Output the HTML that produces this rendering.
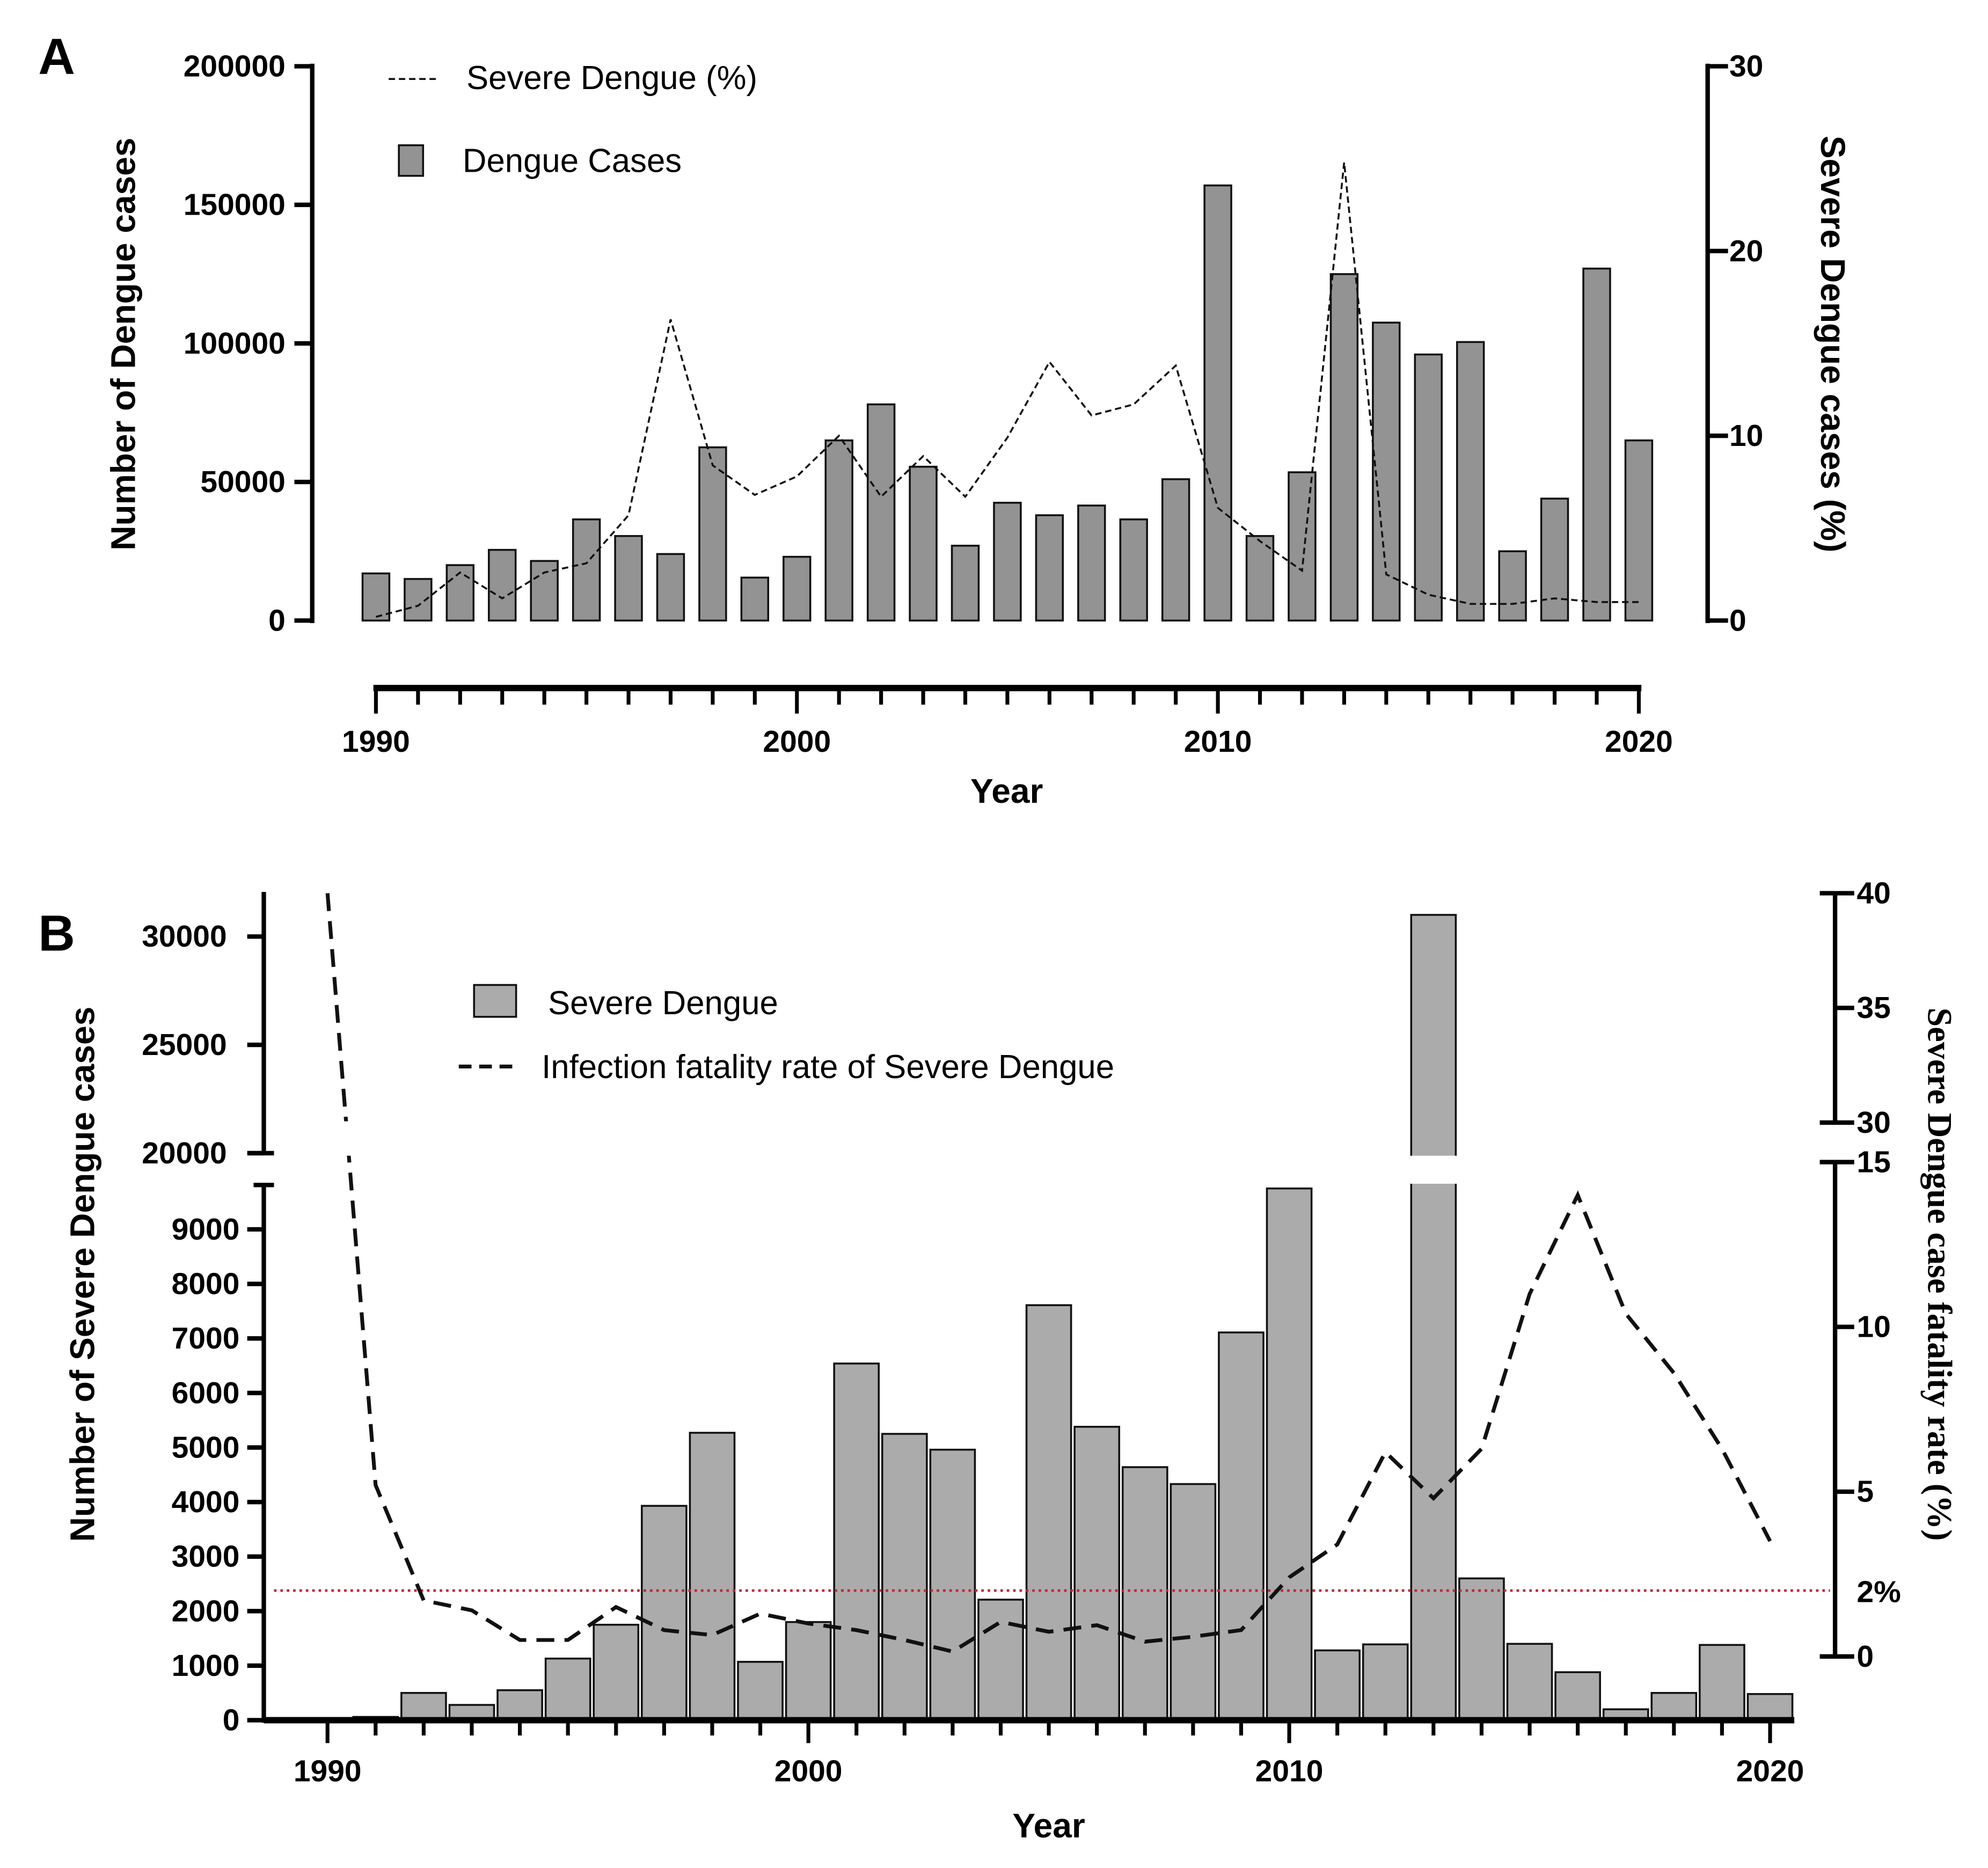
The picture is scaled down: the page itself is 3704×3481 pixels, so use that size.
<!DOCTYPE html>
<html><head><meta charset="utf-8"><style>
html,body{margin:0;padding:0;background:#fff}
svg{display:block}
text{font-family:"Liberation Sans",sans-serif;font-weight:bold;fill:#000}
</style></head><body>
<svg id="chart" xmlns="http://www.w3.org/2000/svg" width="3704" height="3481" viewBox="0 0 1560 1466" preserveAspectRatio="none">
<rect width="1560" height="1466" fill="#fff"/>
<g id="panelA"></g>
<g id="panelB"></g>
</svg>
<script>
const years = [1990,1991,1992,1993,1994,1995,1996,1997,1998,1999,2000,2001,2002,2003,2004,2005,2006,2007,2008,2009,2010,2011,2012,2013,2014,2015,2016,2017,2018,2019,2020];
const dengueCases = [17000,15000,20000,25500,21500,36500,30500,24000,62500,15500,23000,65000,78000,55500,27000,42500,38000,41500,36500,51000,157000,30500,53500,125000,107500,96000,100500,25000,44000,127000,65000];
const severePct = [0.2,0.8,2.6,1.2,2.6,3.1,5.7,16.3,8.4,6.8,7.8,10,6.7,8.9,6.7,9.9,14,11.1,11.7,13.8,6.1,4.3,2.7,24.8,2.5,1.4,0.9,0.9,1.2,1.0,1.0];
const severeCases = [20,60,500,280,550,1130,1750,3930,5270,1070,1800,6540,5250,4960,2210,7610,5380,4640,4330,7110,9750,1280,1390,31000,2600,1400,880,200,500,1380,480];
const fatalityRate = [40,5.2,1.7,1.4,0.5,0.5,1.5,0.8,0.65,1.3,1.0,0.8,0.5,0.15,1.05,0.75,0.95,0.45,0.6,0.8,2.4,3.4,6.2,4.8,6.3,11,14,10.4,8.6,6.3,3.5];
const ticksA_left = [0,50000,100000,150000,200000];
const ticksA_right = [0,10,20,30];
const ticksB_lower = [0,1000,2000,3000,4000,5000,6000,7000,8000,9000];
const ticksB_upper = [20000,25000,30000];
const ticksB_rightLower = [0,5,10,15];
const ticksB_rightUpper = [30,35,40];
const yearLabels = [1990,2000,2010,2020];
const threshold = 2;

const NS="http://www.w3.org/2000/svg";
const TF=24;
function mk(parent,tag,attrs,txt){const e=document.createElementNS(NS,tag);for(const k in attrs)e.setAttribute(k,attrs[k]);if(txt!==undefined)e.textContent=txt;parent.appendChild(e);return e;}

// ---------- Panel A ----------
const A=document.getElementById('panelA');
const xA=y=>295+(y-1990)*(1286-295)/30;
const yAL=v=>487-v*(487-52)/200000;
const yAR=v=>487-v*(487-52)/30;
let t;
t=mk(A,'text',{x:30,y:58,'font-size':40});
t.textContent='A';


years.forEach((yr,i)=>{
  const r=mk(A,'rect',{x:xA(yr)-10.5,y:yAL(dengueCases[i]),width:21,height:487-yAL(dengueCases[i]),fill:'#939393',stroke:'#111','stroke-width':1.5});
  
  
});
let p=mk(A,'polyline',{points:years.map((yr,i)=>xA(yr)+','+yAR(severePct[i])).join(' '),fill:'none',stroke:'#111','stroke-width':1.5,'stroke-dasharray':'5 3'});


mk(A,'line',{x1:245,y1:50,x2:245,y2:489,stroke:'#000','stroke-width':3.5});
ticksA_left.forEach(v=>{mk(A,'line',{x1:231,y1:yAL(v),x2:245,y2:yAL(v),stroke:'#000','stroke-width':3.5});
  t=mk(A,'text',{x:224,y:yAL(v)+8,'font-size':TF,'text-anchor':'end'},String(v));
  
  });
mk(A,'line',{x1:1340,y1:50,x2:1340,y2:489,stroke:'#000','stroke-width':3.5});
ticksA_right.forEach(v=>{mk(A,'line',{x1:1340,y1:yAR(v),x2:1356,y2:yAR(v),stroke:'#000','stroke-width':3.5});
  t=mk(A,'text',{x:1357,y:yAR(v)+8,'font-size':TF},String(v));
  
  });
mk(A,'line',{x1:293,y1:540,x2:1288,y2:540,stroke:'#000','stroke-width':5});
years.forEach(yr=>mk(A,'line',{x1:xA(yr),y1:540,x2:xA(yr),y2:yearLabels.includes(yr)?560:553,stroke:'#000','stroke-width':3}));
yearLabels.forEach(yr=>{t=mk(A,'text',{x:xA(yr),y:590,'font-size':TF,'text-anchor':'middle'},String(yr));
  
  });
t=mk(A,'text',{x:790,y:630,'font-size':27,'text-anchor':'middle'},'Year');


t=mk(A,'text',{transform:'translate(106,270) rotate(-90)','font-size':27,'text-anchor':'middle'},'Number of Dengue cases');


t=mk(A,'text',{transform:'translate(1429,270) rotate(90)','font-size':27,'text-anchor':'middle'},'Severe Dengue cases (%)');


mk(A,'line',{x1:305,y1:62,x2:345,y2:62,stroke:'#111','stroke-width':1.5,'stroke-dasharray':'5 3'});
t=mk(A,'text',{x:366,y:70,'font-size':26,style:'font-weight:normal'},'Severe Dengue (%)');


mk(A,'rect',{x:313,y:114,width:19,height:24,fill:'#939393',stroke:'#111','stroke-width':1.5});
t=mk(A,'text',{x:363,y:135,'font-size':26,style:'font-weight:normal'},'Dengue Cases');



// ---------- Panel B ----------
const B=document.getElementById('panelB');
const xB=y=>257+(y-1990)*(1389-257)/30;
const yBL=v=>v<=10000?1350-v*0.0428:(905-(v-20000)*0.017);
const yBR=v=>v<=15?1300-v*(1300-912)/15:(v>=30?881-(v-30)*18:912-(v-15)*(31/15));
t=mk(B,'text',{x:30,y:746,'font-size':40},'B');


years.forEach((yr,i)=>{
  const top=yBL(severeCases[i]);
  const r=mk(B,'rect',{x:xB(yr)-17.5,y:top,width:35,height:1350-top,fill:'#ababab',stroke:'#111','stroke-width':1.5});
  
  
  if(severeCases[i]>10000) mk(B,'rect',{x:xB(yr)-19,y:907,width:38,height:22,fill:'#fff'});
});
const thr=mk(B,'line',{x1:215,y1:yBR(threshold),x2:1436,y2:yBR(threshold),stroke:'#c0282e','stroke-width':2,'stroke-dasharray':'2 3'});


p=mk(B,'polyline',{points:years.map((yr,i)=>xB(yr)+','+yBR(fatalityRate[i])).join(' '),fill:'none',stroke:'#111','stroke-width':3,'stroke-dasharray':'14 8'});


mk(B,'rect',{x:255,y:880,width:25,height:27,fill:'#fff'});
mk(B,'line',{x1:207,y1:700,x2:207,y2:905,stroke:'#000','stroke-width':3.5});
mk(B,'line',{x1:207,y1:930,x2:207,y2:1352,stroke:'#000','stroke-width':3.5});
mk(B,'line',{x1:195,y1:905,x2:215,y2:905,stroke:'#000','stroke-width':3.5});
mk(B,'line',{x1:199,y1:930,x2:215,y2:930,stroke:'#000','stroke-width':3.5});
ticksB_lower.forEach(v=>{mk(B,'line',{x1:194,y1:yBL(v),x2:207,y2:yBL(v),stroke:'#000','stroke-width':3.5});
  t=mk(B,'text',{x:188,y:yBL(v)+8,'font-size':TF,'text-anchor':'end'},String(v));
  
  });
ticksB_upper.forEach(v=>{mk(B,'line',{x1:194,y1:yBL(v),x2:207,y2:yBL(v),stroke:'#000','stroke-width':3.5});
  t=mk(B,'text',{x:178,y:yBL(v)+8,'font-size':TF,'text-anchor':'end'},String(v));
  
  });
mk(B,'line',{x1:1440,y1:700,x2:1440,y2:882,stroke:'#000','stroke-width':3.5});
mk(B,'line',{x1:1440,y1:911,x2:1440,y2:1301,stroke:'#000','stroke-width':3.5});
[[701],[881],[912],[1300]].forEach(a=>mk(B,'line',{x1:1428,y1:a[0],x2:1440,y2:a[0],stroke:'#000','stroke-width':3.5}));
ticksB_rightLower.concat(ticksB_rightUpper).forEach(v=>{mk(B,'line',{x1:1440,y1:yBR(v),x2:1455,y2:yBR(v),stroke:'#000','stroke-width':3.5});
  t=mk(B,'text',{x:1457,y:yBR(v)+8,'font-size':TF},String(v));
  
  });
t=mk(B,'text',{x:1457,y:yBR(threshold)+9,'font-size':TF},threshold+'%');


mk(B,'line',{x1:207,y1:1350,x2:1408,y2:1350,stroke:'#000','stroke-width':5});
years.forEach(yr=>mk(B,'line',{x1:xB(yr),y1:1350,x2:xB(yr),y2:yearLabels.includes(yr)?1368:1362,stroke:'#000','stroke-width':3}));
yearLabels.forEach(yr=>{t=mk(B,'text',{x:xB(yr),y:1398,'font-size':TF,'text-anchor':'middle'},String(yr));
  
  });
t=mk(B,'text',{x:823,y:1442,'font-size':27,'text-anchor':'middle'},'Year');


t=mk(B,'text',{transform:'translate(74,1000) rotate(-90)','font-size':27,'text-anchor':'middle'},'Number of Severe Dengue cases');


t=mk(B,'text',{transform:'translate(1513,1000) rotate(90)','font-size':27,'text-anchor':'middle',style:'font-family:"Liberation Serif",serif'},'Severe Dengue case fatality rate (%)');


mk(B,'rect',{x:372,y:773,width:33,height:25,fill:'#ababab',stroke:'#111','stroke-width':1.5});
t=mk(B,'text',{x:430,y:796,'font-size':26,style:'font-weight:normal'},'Severe Dengue');


mk(B,'line',{x1:360,y1:837,x2:404,y2:837,stroke:'#111','stroke-width':3,'stroke-dasharray':'10 6'});
t=mk(B,'text',{x:425,y:846,'font-size':26,style:'font-weight:normal'},'Infection fatality rate of Severe Dengue');


</script>
</body></html>
